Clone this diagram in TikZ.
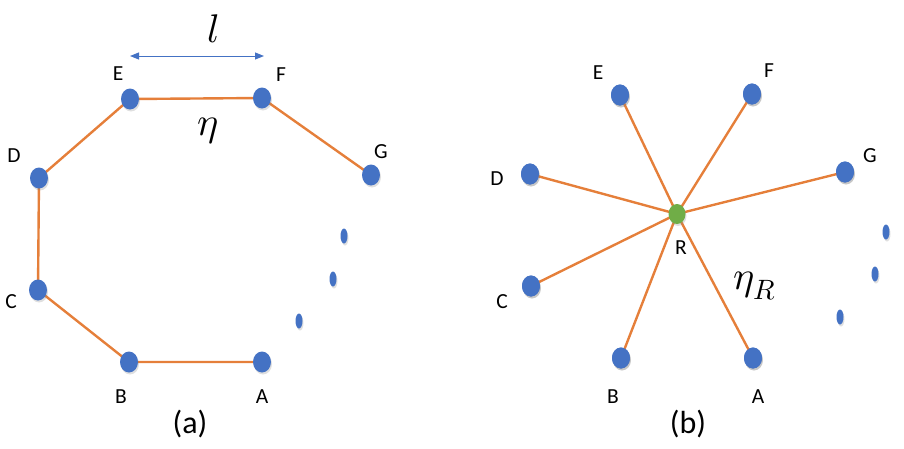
\documentclass[tikz,border=0pt]{standalone}
\usepackage{fontspec}
\setmainfont{Carlito}
\usepackage{unicode-math}
\usetikzlibrary{shadows,arrows.meta,shapes.geometric}
\definecolor{nodeblue}{HTML}{4472C4}
\definecolor{edgeorange}{HTML}{E57F3A}
\definecolor{relaygreen}{HTML}{70AD47}
\begin{document}
\begin{tikzpicture}[x=1pt,y=-1pt,
  dot/.style={ellipse,fill=nodeblue,minimum width=18pt,minimum height=21pt,inner sep=0pt,
     drop shadow={opacity=0.25,shadow xshift=1pt,shadow yshift=-2pt}},
  smalldot/.style={ellipse,fill=nodeblue,minimum width=7pt,minimum height=15pt,inner sep=0pt,
     drop shadow={opacity=0.25,shadow xshift=1pt,shadow yshift=-2pt}},
  relay/.style={ellipse,fill=relaygreen,minimum width=17pt,minimum height=20pt,inner sep=0pt,
     drop shadow={opacity=0.25,shadow xshift=1pt,shadow yshift=-2pt}},
  lab/.style={font=\fontsize{21.5}{24}\selectfont,inner sep=0pt},
  captext/.style={font=\fontsize{32}{34}\selectfont,inner sep=0pt},
  mathlab/.style={font=\fontsize{40}{42}\selectfont,inner sep=0pt},
  conn/.style={draw=edgeorange,line width=2.4pt}]
\useasboundingbox (0,0) rectangle (904,448);
% panel (a)
\coordinate (aE) at (130,99);
\coordinate (aF) at (262,98);
\coordinate (aG) at (371,175);
\coordinate (aD) at (39,178);
\coordinate (aC) at (38,290);
\coordinate (aB) at (129,362);
\coordinate (aA) at (262,362);
\draw[conn] (aG) -- (aF) -- (aE) -- (aD) -- (aC) -- (aB) -- (aA);
\node[dot] (nE) at (aE) {};
\node[dot] (nF) at (aF) {};
\node[dot] (nG) at (aG) {};
\node[dot] (nD) at (aD) {};
\node[dot] (nC) at (aC) {};
\node[dot] (nB) at (aB) {};
\node[dot] (nA) at (aA) {};
\node[smalldot] (s1) at (344,236) {};
\node[smalldot] (s2) at (333,279) {};
\node[smalldot] (s3) at (299,321) {};
\node[lab] (lE) at (118,74) {E};
\node[lab] (lF) at (281,75) {F};
\node[lab] (lG) at (381,152) {G};
\node[lab] (lD) at (14,156) {D};
\node[lab] (lC) at (11,302) {C};
\node[lab] (lB) at (121,397) {B};
\node[lab] (lA) at (262,397) {A};
\coordinate (arL) at (130,56);
\coordinate (arR) at (264,56);
\draw[nodeblue,line width=1pt,{Triangle[length=9pt,width=7pt]}-{Triangle[length=9pt,width=7pt]}] (arL) -- (arR);
\node[mathlab] (ell) at (213,29) {$l$};
\node[mathlab] (eta) at (208,131) {$\eta$};
\node[captext] (capa) at (190,424) {(a)};
% panel (b)
\node[dot] (bE) at (620,95) {};
\node[dot] (bF) at (752,94) {};
\node[dot] (bG) at (845,172) {};
\node[dot] (bD) at (530,174) {};
\node[dot] (bC) at (531,286) {};
\node[dot] (bB) at (621,358) {};
\node[dot] (bA) at (753,358) {};
\coordinate (cR) at (677,214);
\foreach \n in {bE,bF,bG,bD,bC,bB,bA} \draw[conn] (cR) -- (\n.center);
\foreach \n in {bE,bF,bG,bD,bC,bB,bA} \node[dot] at (\n) {};
\node[relay] (R) at (cR) {};
\node[smalldot] (t1) at (886,232) {};
\node[smalldot] (t2) at (875,274) {};
\node[smalldot] (t3) at (840,317) {};
\node[lab] (mE) at (598,73) {E};
\node[lab] (mF) at (769,71) {F};
\node[lab] (mG) at (870,156) {G};
\node[lab] (mD) at (497,179) {D};
\node[lab] (mC) at (502,302) {C};
\node[lab] (mB) at (613,397) {B};
\node[lab] (mA) at (758,397) {A};
\node[lab] (mR) at (681,248) {R};
\node[mathlab] (etaR) at (755,286) {$\eta_R$};
\node[captext] (capb) at (688,424) {(b)};
\end{tikzpicture}
\end{document}
